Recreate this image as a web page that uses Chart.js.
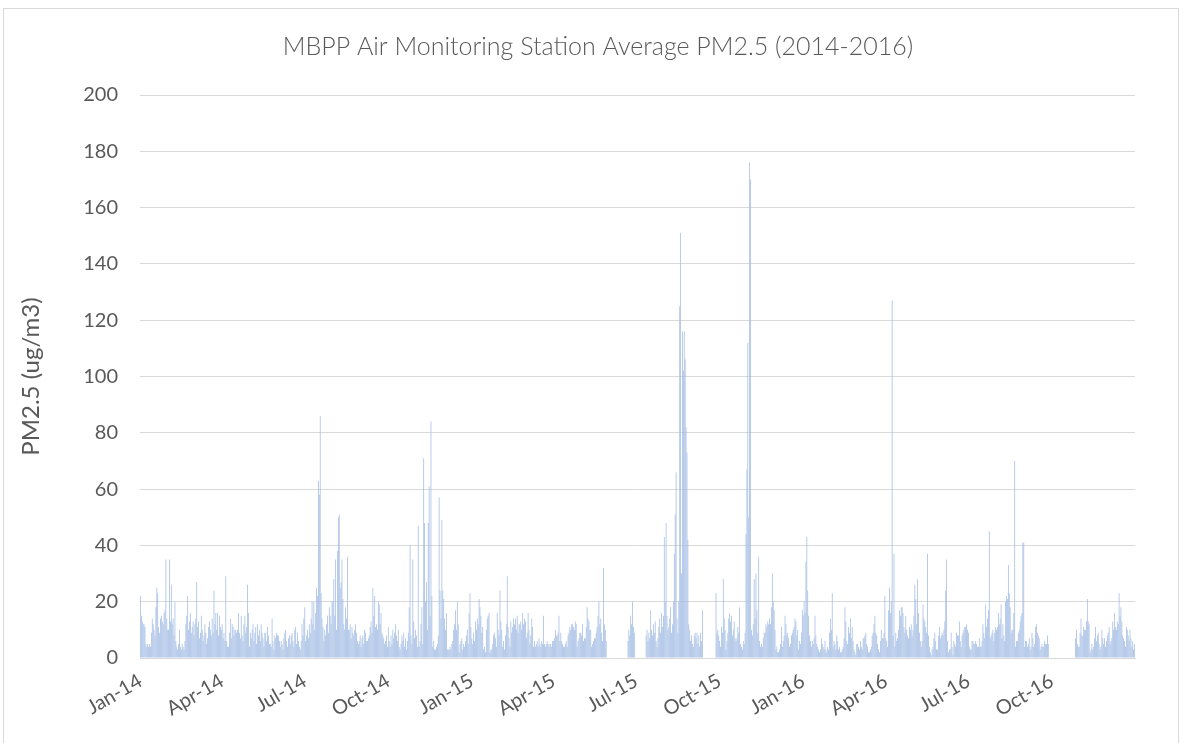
<!DOCTYPE html>
<html>
<head>
<meta charset="utf-8">
<script src="https://cdn.jsdelivr.net/npm/chart.js@4.4.0/dist/chart.umd.min.js"></script>
<style>
  html, body { margin: 0; padding: 0; background: #fff; }
  #frame { position: absolute; left: 3px; top: 8px; width: 1176px; height: 760px; border: 1px solid #d9d9d9; box-sizing: border-box; }
  #wrap { position: absolute; left: 0; top: 0; width: 1184px; height: 743px; }
</style>
</head>
<body>
<div id="frame"></div>
<div id="wrap"><canvas id="pmChart" width="1184" height="743"></canvas></div>
<script>
// daily average PM2.5, one line per month (null = no data)
const pm2014 = [
  22,15,13,12,12,11,5,4,5,4,5,4,9,14,12,10,8,18,25,23,11,9,14,15,13,12,16,17,35,14,10,
  10,35,13,26,12,14,8,20,6,4,3,5,10,4,3,5,4,3,6,12,15,22,10,13,16,9,11,13,
  8,12,14,27,11,13,7,9,15,10,6,8,12,9,5,7,11,13,10,8,14,9,24,12,16,10,16,8,15,11,10,
  12,7,9,6,29,6,4,4,9,14,7,12,11,8,10,10,9,10,16,9,7,15,8,6,12,15,9,11,26,16,
  4,9,7,10,12,6,9,11,5,12,8,10,6,12,9,7,4,9,9,6,11,8,5,5,4,14,6,3,8,7,9,
  8,8,6,4,6,5,3,7,9,10,6,4,7,8,5,8,9,6,4,10,11,5,9,6,4,3,6,12,8,14,
  18,6,8,10,7,12,9,14,20,12,20,10,16,25,22,63,58,86,23,14,11,6,10,8,12,15,9,18,15,12,20,
  20,28,15,35,10,38,50,51,25,27,35,21,12,10,18,14,36,10,10,12,7,11,9,8,10,12,9,6,5,6,8,
  4,7,8,5,10,9,6,6,7,8,11,13,9,25,15,22,11,12,10,20,19,12,16,9,8,7,5,6,8,4,
  11,6,4,8,5,10,7,9,12,8,6,10,4,3,5,8,6,9,4,7,3,6,9,18,40,8,5,35,13,7,10,
  8,4,47,4,6,12,18,5,71,48,20,27,10,48,61,15,84,22,4,6,3,3,4,5,8,57,24,14,49,24,
  21,14,10,16,3,3,3,4,3,5,6,10,12,17,10,20,12,2,5,6,7,3,5,4,6,8,10,5,16,23,11
];

const pm2015 = [
  7,5,9,6,13,10,14,12,21,18,15,9,11,3,4,2,10,14,15,16,2,3,3,5,8,9,7,4,16,10,8,
  24,13,10,4,6,3,8,12,29,11,7,4,13,9,11,14,12,14,10,15,9,12,12,13,10,16,12,14,
  13,7,9,16,10,5,8,14,11,4,6,4,5,6,4,7,5,4,6,5,15,5,4,5,6,5,4,5,5,4,6,
  6,7,10,8,8,9,15,6,9,6,5,4,4,5,6,4,8,9,11,10,12,12,11,10,13,12,4,6,7,9,
  9,8,12,6,7,7,11,18,14,13,10,10,4,5,6,7,7,9,11,15,20,12,14,9,6,32,12,10,6,null,null,
  null,null,null,null,null,null,null,null,null,null,null,null,null,null,null,null,null,null,null,null,null,6,10,8,15,12,20,11,9,null,
  null,null,null,null,null,null,null,null,null,null,null,8,10,6,9,7,17,10,8,12,9,13,6,4,7,11,14,9,16,11,15,
  43,20,48,15,10,11,14,18,9,12,20,37,51,66,14,9,20,125,151,30,116,102,116,106,82,73,42,12,10,6,8,
  5,4,8,9,7,9,5,8,4,9,6,17,null,null,null,null,null,null,null,null,null,null,null,null,null,null,23,9,10,8,
  6,4,11,9,28,14,10,3,6,9,14,16,13,15,8,10,13,7,6,7,11,9,18,5,4,3,6,5,9,44,67,
  112,50,176,170,10,8,12,28,14,30,17,9,36,6,4,5,4,7,9,9,12,11,13,12,14,12,18,30,20,17,
  10,3,4,2,2,3,5,11,4,6,8,15,12,8,9,7,4,5,8,9,10,11,14,13,8,10,3,6,5,9,17
];

const pm2016 = [
  15,20,16,34,43,24,15,8,6,4,6,5,7,15,8,5,4,3,2,3,7,5,4,3,6,3,2,4,3,9,14,
  10,23,4,6,5,3,8,6,3,4,2,2,3,4,7,18,13,6,5,11,9,14,7,11,6,3,2,1,5,
  5,4,3,6,4,3,7,7,8,9,5,4,2,2,3,4,8,9,12,15,9,8,5,3,2,6,10,7,7,9,22,
  7,6,4,17,25,16,20,127,8,37,4,9,6,7,10,17,15,18,18,16,11,9,15,10,8,7,11,10,12,8,
  10,15,26,21,12,28,16,9,6,4,6,19,14,13,11,9,37,8,4,2,1,3,4,7,9,6,3,3,8,11,7,
  8,9,8,10,13,24,35,6,2,3,3,9,4,1,6,5,4,9,8,8,13,6,4,8,9,10,11,11,12,10,
  9,4,3,3,6,6,5,5,6,5,4,4,7,4,4,6,12,9,7,19,11,14,17,45,7,8,9,10,6,9,11,
  10,11,16,12,14,19,7,12,8,6,20,22,21,33,23,18,9,10,10,16,70,4,6,6,9,10,13,15,16,41,41,
  4,6,6,4,5,7,3,4,9,7,4,5,11,12,9,8,7,3,4,5,4,4,6,5,5,8,5,null,null,null,
  null,null,null,null,null,null,null,null,null,null,null,null,null,null,null,null,null,null,null,null,null,null,null,null,null,null,7,10,5,4,4,
  9,14,8,8,11,10,10,13,21,13,12,2,3,5,3,4,7,11,6,8,9,5,3,4,10,7,5,7,4,6,
  8,9,11,5,6,7,13,10,16,11,10,13,12,23,15,18,13,8,7,6,4,11,10,8,6,10,7,4,6,3,5
];

const tickLabels = ["Jan-14", "Apr-14", "Jul-14", "Oct-14", "Jan-15", "Apr-15",
                    "Jul-15", "Oct-15", "Jan-16", "Apr-16", "Jul-16", "Oct-16"];
const monthNames = ["Jan","Feb","Mar","Apr","May","Jun","Jul","Aug","Sep","Oct","Nov","Dec"];

const values = pm2014.concat(pm2015, pm2016);
const days = values.map((v, i) => new Date(2014, 0, 1 + i));
const labels = days.map(d => d.getDate() + "-" + monthNames[d.getMonth()] + "-" + String(d.getFullYear()).slice(2));

const textColor = "#595959";
const gridColor = "#d9d9d9";

new Chart(document.getElementById("pmChart"), {
    type: "bar",
    data: {
        labels,
        datasets: [{
            label: "PM2.5",
            data: values,
            backgroundColor: "#a4bde4",
            borderWidth: 0,
            barPercentage: 0.85,
            categoryPercentage: 1
        }]
    },
    options: {
        responsive: false,
        animation: false,
        devicePixelRatio: 1,
        // side padding picked so the title sits where Excel put it
        layout: { padding: { left: 61, right: 49, top: 0, bottom: 0 } },
        plugins: {
            legend: { display: false },
            tooltip: { enabled: false },
            title: {
                display: true,
                text: "MBPP Air Monitoring Station Average PM2.5 (2014-2016)",
                color: textColor,
                font: { family: "Lato", size: 25, weight: 300 },
                padding: { top: 32, bottom: 33 }
            }
        },
        scales: {
            x: {
                grid: { display: false },
                border: { color: gridColor },
                ticks: {
                    autoSkip: false,
                    minRotation: 30,
                    maxRotation: 30,
                    padding: 3,
                    color: textColor,
                    font: { family: "Lato", size: 20 },
                    callback: (v, i) => {
                        const d = days[i];
                        if (d.getDate() === 1 && d.getMonth() % 3 === 0) {
                            return tickLabels[(d.getFullYear() - 2014) * 4 + d.getMonth() / 3];
                        }
                        return null;
                    }
                },
                afterFit: s => { s.height = 85; }
            },
            y: {
                min: 0,
                max: 200,
                ticks: {
                    stepSize: 20,
                    padding: 22,
                    color: textColor,
                    font: { family: "Lato", size: 20 }
                },
                grid: { color: gridColor, drawTicks: false },
                border: { display: false },
                title: {
                    display: true,
                    text: "PM2.5 (ug/m3)",
                    color: textColor,
                    font: { family: "Lato", size: 24 },
                    // pulls the title back out into the left padding
                    padding: { top: -44, bottom: 0 }
                },
                afterFit: s => { s.width = 79; }
            }
        }
    }
});
</script>
</body>
</html>
